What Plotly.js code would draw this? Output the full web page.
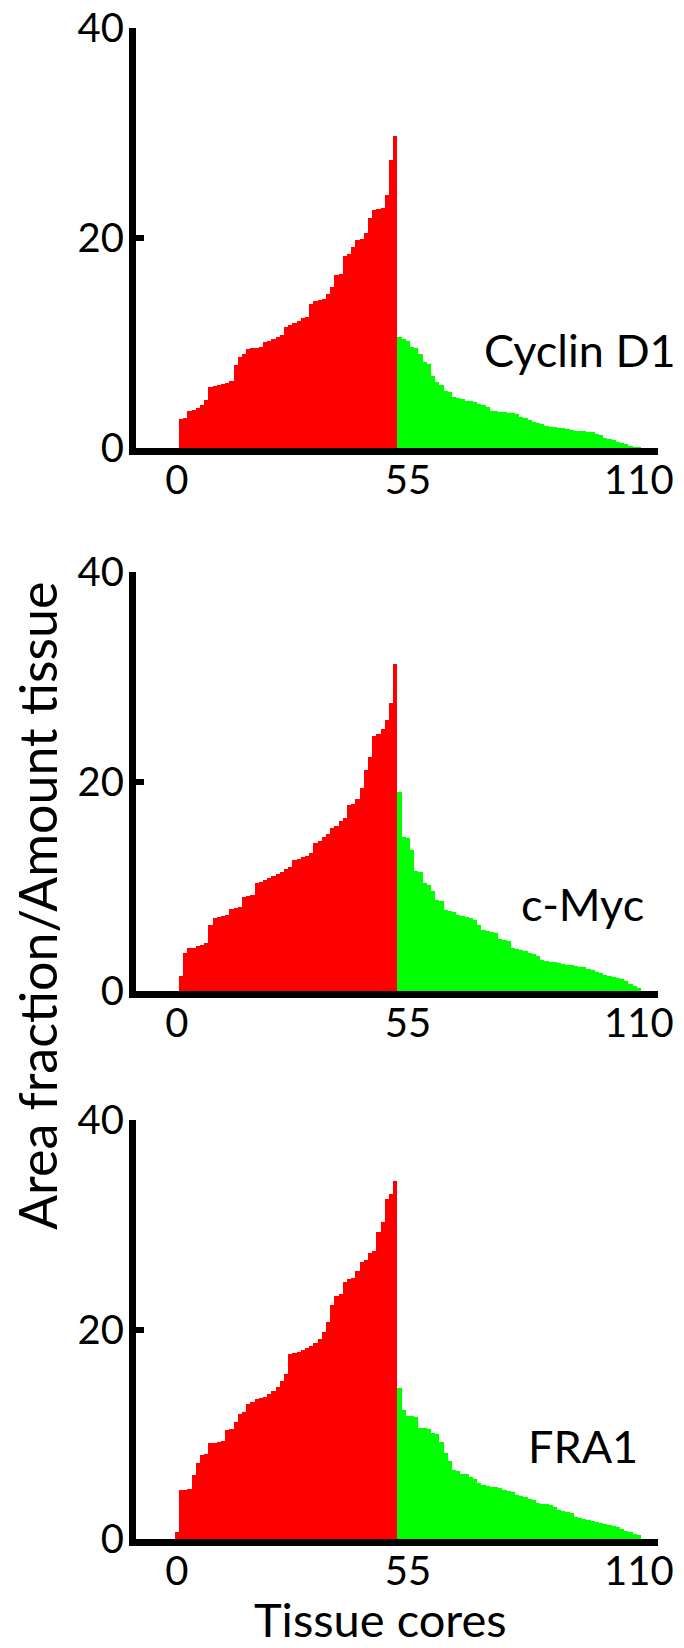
<!DOCTYPE html>
<html><head><meta charset="utf-8">
<script src="https://cdn.plot.ly/plotly-3.0.1.min.js"></script>
<style>html,body{margin:0;padding:0;background:#fff}</style>
</head><body><div id="chart" style="width:684px;height:1648px"></div>
<script>
// ---- data ----
const panelLabels = ['Cyclin D1', 'c-Myc', 'FRA1'];
const xTickVals = [0, 55, 110];
const xTickText = ['0', '55', '110'];
const yTickVals = [0, 20, 40];
const yTickText = ['0', '20', '40'];
const yTitle = 'Area fraction/Amount tissue';
const xTitle = 'Tissue cores';

const cyclinFirstCore = 1;
const cyclinRed = [2.8,2.9,3.5,3.6,3.8,4.1,4.6,5.8,5.9,6.0,6.1,6.2,6.4,7.9,8.7,9.0,9.4,9.5,9.5,9.6,
  10.1,10.2,10.4,10.6,10.8,11.5,11.7,11.9,12.1,12.4,12.5,13.7,14.0,14.1,14.2,14.7,15.3,16.5,16.6,18.3,
  18.5,19.1,19.8,19.9,20.5,21.9,22.7,22.8,22.9,24.1,27.4,29.7];
const cyclinGreen = [10.6,10.4,10.2,9.6,9.5,9.0,8.2,8.0,6.9,6.3,6.0,5.4,5.3,4.9,4.8,4.7,4.5,4.5,4.4,4.2,
  4.1,3.9,3.5,3.5,3.4,3.4,3.3,3.3,3.2,3.0,2.9,2.7,2.5,2.4,2.3,2.1,2.0,2.0,1.9,1.9,
  1.8,1.7,1.6,1.6,1.6,1.5,1.5,1.3,1.2,1.0,0.9,0.8,0.6,0.5,0.4,0.2,0.1,0.05];

const mycFirstCore = 1;
const mycRed = [1.4,3.6,4.1,4.1,4.3,4.4,4.6,6.3,7.0,7.1,7.2,7.3,7.8,7.9,8.0,9.0,9.1,9.2,10.3,10.4,
  10.6,10.8,11.0,11.2,11.4,11.6,11.8,12.5,12.6,12.8,12.9,13.2,14.1,14.3,14.7,15.0,15.6,15.8,16.2,16.5,
  17.8,17.9,18.3,19.4,21.1,22.3,24.3,24.5,25.0,25.9,27.5,31.2];
const mycGreen = [19.0,14.7,14.6,13.5,11.5,11.4,10.3,10.1,9.5,8.7,8.6,7.7,7.6,7.5,7.3,7.2,7.1,7.0,6.8,6.3,
  5.8,5.7,5.6,5.5,5.0,4.9,4.8,4.1,4.0,3.9,3.8,3.6,3.5,3.3,3.0,2.9,2.8,2.8,2.7,2.6,
  2.5,2.5,2.4,2.3,2.3,2.1,2.0,1.8,1.7,1.5,1.4,1.3,1.2,1.1,1.0,0.7,0.5,0.3];

const fraFirstCore = 0;
const fraRed = [0.7,4.7,4.7,4.8,6.1,7.3,8.0,8.1,9.2,9.2,9.3,9.4,10.4,10.5,11.2,11.9,12.1,12.9,13.1,13.4,
  13.5,13.6,13.8,14.1,14.5,15.1,15.8,17.7,17.8,17.9,18.0,18.2,18.4,18.7,19.1,19.8,20.7,22.3,23.2,23.4,
  24.5,24.8,24.9,25.6,26.4,26.6,27.3,27.5,29.3,30.3,32.5,32.9,34.2];
const fraGreen = [14.4,12.3,11.7,11.7,11.6,10.6,10.6,10.5,10.1,10.0,9.3,8.2,7.4,6.6,6.5,6.2,6.2,5.9,5.7,5.3,
  5.2,5.1,5.0,5.0,4.9,4.7,4.6,4.5,4.2,4.1,4.0,3.8,3.7,3.4,3.3,3.3,3.2,3.1,2.8,2.7,
  2.6,2.5,2.1,2.0,1.9,1.8,1.7,1.6,1.5,1.4,1.3,1.2,1.1,1.0,0.8,0.7,0.5,0.4];

// ---- layout geometry ----
const W = 684, H = 1648;
const M = {l: 136, r: 26, t: 28, b: 109};
const plotW = W - M.l - M.r, plotH = H - M.t - M.b;
const pxToPaperX = p => (p - M.l) / plotW;
const pxToPaperY = p => (H - M.b - p) / plotH;

const FONT = 'Lato, "Open Sans", sans-serif';
const RED = '#ff0000', GREEN = '#00ff00';

const panels = [
  {red: cyclinRed, green: cyclinGreen, first: cyclinFirstCore, top: 28,   bottom: 448,  lx: 580, ly: 350},
  {red: mycRed,    green: mycGreen,    first: mycFirstCore,    top: 572,  bottom: 991,  lx: 582, ly: 904},
  {red: fraRed,    green: fraGreen,    first: fraFirstCore,    top: 1120, bottom: 1539, lx: 583, ly: 1446}
];

const data = [];
const layout = {
  width: W, height: H,
  margin: M,
  paper_bgcolor: '#fff', plot_bgcolor: 'rgba(0,0,0,0)',
  showlegend: false,
  bargap: 0,
  font: {family: FONT, color: '#000'},
  annotations: []
};

panels.forEach((p, k) => {
  const n = k === 0 ? '' : String(k + 1);
  const xa = 'x' + n, ya = 'y' + n;
  const redX = p.red.map((_, i) => p.first + i);
  const greenX = p.green.map((_, i) => p.first + p.red.length + i);
  data.push({type: 'bar', x: redX, y: p.red, xaxis: xa, yaxis: ya, width: 1,
    marker: {color: RED, line: {width: 0}}, hoverinfo: 'x+y'});
  data.push({type: 'bar', x: greenX, y: p.green, xaxis: xa, yaxis: ya, width: 1,
    marker: {color: GREEN, line: {width: 0}}, hoverinfo: 'x+y'});

  layout['xaxis' + n] = {
    domain: [0, 1], anchor: ya, range: [-9.74, 114.55],
    tickmode: 'array', tickvals: xTickVals, ticktext: xTickText,
    ticks: '', showline: true, linewidth: 7, linecolor: '#000',
    showgrid: false, zeroline: false, fixedrange: true,
    tickfont: {family: FONT, size: 40, color: '#000'}, ticklabelstandoff: -9
  };
  layout['yaxis' + n] = {
    domain: [pxToPaperY(p.bottom), pxToPaperY(p.top)], anchor: xa, range: [0, 40],
    tickmode: 'array', tickvals: yTickVals, ticktext: yTickText,
    ticks: 'inside', ticklen: 8, tickwidth: 6, tickcolor: '#000',
    showline: true, linewidth: 7, linecolor: '#000',
    showgrid: false, zeroline: false, fixedrange: true,
    tickfont: {family: FONT, size: 40, color: '#000'}, ticklabelstandoff: -3
  };
  layout.annotations.push({
    text: panelLabels[k], xref: 'paper', yref: 'paper',
    x: pxToPaperX(p.lx), y: pxToPaperY(p.ly), xanchor: 'center', yanchor: 'middle',
    showarrow: false, font: {family: FONT, size: 45, color: '#000'}
  });
});

layout.annotations.push({
  text: yTitle, xref: 'paper', yref: 'paper', textangle: -90,
  x: pxToPaperX(37), y: pxToPaperY(906), xanchor: 'center', yanchor: 'middle',
  showarrow: false, font: {family: FONT, size: 52, color: '#000'}
});
layout.annotations.push({
  text: xTitle, xref: 'paper', yref: 'paper',
  x: pxToPaperX(380), y: pxToPaperY(1619), xanchor: 'center', yanchor: 'middle',
  showarrow: false, font: {family: FONT, size: 47, color: '#000'}
});

Plotly.newPlot('chart', data, layout, {staticPlot: true, displayModeBar: false});
</script></body></html>
